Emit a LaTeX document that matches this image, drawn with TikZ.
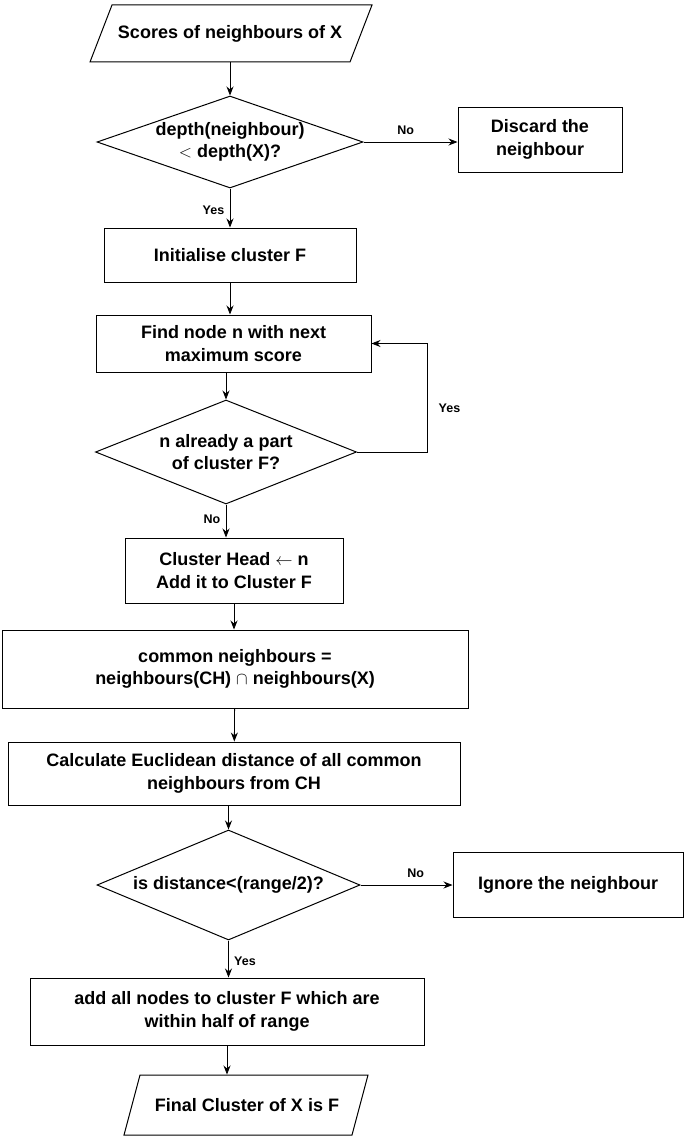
\documentclass[tikz,border=0pt]{standalone}
\usepackage{fontspec}
\setmainfont{Liberation Sans}
\usetikzlibrary{shapes.geometric,arrows.meta}
\begin{document}
\begin{tikzpicture}[x=1pt,y=-1pt,
  base/.style={line width=1pt,font=\fontsize{18}{22.5}\selectfont\bfseries,align=center,inner sep=0pt},
  box/.style={base,draw,rectangle},
  dia/.style={base,draw,diamond},
  para/.style={base,rectangle},
  lbl/.style={font=\fontsize{12.5}{15}\selectfont\bfseries},
  arr/.style={-{Stealth[length=9pt,width=7pt]},line width=0.8pt}]
\useasboundingbox (0,0) rectangle (685,1140);
\node[para,minimum width=230,minimum height=57] (s) at (230,33.5) {Scores of neighbours of X};
\draw[line width=1pt] (112,5) -- (372,5) -- (350,62) -- (90,62) -- cycle;
\node[dia,shape aspect=2.9,minimum width=266,minimum height=92] (d1) at (230,142) {depth(neighbour)\\ $<$ depth(X)?};
\node[box,minimum width=164,minimum height=65] (disc) at (540,139.5) {Discard the\\neighbour};
\node[box,minimum width=252,minimum height=54] (init) at (230,255) {Initialise cluster F};
\node[box,minimum width=275,minimum height=57] (find) at (233.5,343.5) {Find node n with next\\maximum score};
\node[dia,shape aspect=2.5,minimum width=261,minimum height=104] (d2) at (226,452) {n already a part\\of cluster F?};
\node[box,minimum width=218,minimum height=65] (ch) at (234,570.5) {Cluster Head $\leftarrow$ n\\Add it to Cluster F};
\node[box,minimum width=466,minimum height=78] (cn) at (235,669) {common neighbours =\\neighbours(CH) $\cap$ neighbours(X)};
\node[box,minimum width=452,minimum height=63] (calc) at (234,773.5) {Calculate Euclidean distance of all common\\neighbours from CH};
\node[dia,shape aspect=2.4,minimum width=263,minimum height=110] (d3) at (228.5,885) {is distance<(range/2)?};
\node[box,minimum width=230,minimum height=65] (ign) at (568,884.5) {Ignore the neighbour};
\node[box,minimum width=394,minimum height=67] (add) at (227,1011.5) {add all nodes to cluster F which are\\within half of range};
\node[para,minimum width=220,minimum height=60] (fin) at (247,1105) {Final Cluster of X is F};
\draw[line width=1pt] (140,1075) -- (368,1075) -- (352,1135) -- (124,1135) -- cycle;
\draw[arr] (s) -- (d1);
\draw[arr] (d1.east) -- node[lbl,above=4pt,pos=0.45]{No} (disc.west|-d1.east);
\draw[arr] (d1) -- node[lbl,left=2pt,pos=0.55]{Yes} (init);
\draw[arr] (init) -- (init|-find.north);
\draw[arr] (find.south-|d2) -- (d2);
\coordinate (c1) at (427,452);
\coordinate (c2) at (427,343.5);
\draw[arr] (d2.east) -- (c1) -- node[lbl,right=8pt,pos=0.4]{Yes} (c2) -- (find.east);
\draw[arr] (d2.south) -- node[lbl,left=2pt,pos=0.45]{No} (d2.south|-ch.north);
\draw[arr] (ch) -- (ch|-cn.north);
\draw[arr] (cn) -- (calc);
\draw[arr] (calc.south-|d3) -- (d3);
\draw[arr] (d3.east) -- node[lbl,above=4pt,pos=0.6]{No} (ign.west|-d3.east);
\draw[arr] (d3) -- node[lbl,right=2pt,pos=0.55]{Yes} (d3|-add.north);
\draw[arr] (add.south) -- (add.south|-fin.north);
\end{tikzpicture}
\end{document}
